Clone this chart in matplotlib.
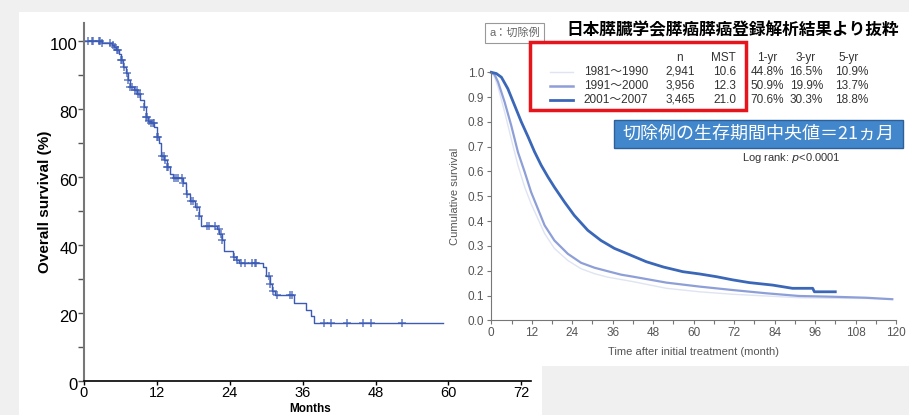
import numpy as np
import matplotlib
matplotlib.use('Agg')
import matplotlib.pyplot as plt
import matplotlib.transforms as mtransforms
from matplotlib.patches import Rectangle

plt.rcParams['font.family'] = ['Liberation Sans', 'Noto Sans CJK JP', 'DejaVu Sans']

# ---- left panel: Kaplan-Meier (own series) ----
km_t = [0, 2.9, 4.6, 4.9, 5.3, 5.7, 6.1, 6.5, 6.9, 7.2, 7.5, 8.3, 8.8, 9.3, 9.8, 10.2,
        10.5, 11.0, 11.6, 12.0, 12.3, 12.6, 13.2, 13.6, 14.1, 14.6, 16.3, 16.8, 17.5,
        18.2, 19.0, 19.3, 21.9, 22.3, 22.7, 23.1, 24.6, 25.0, 25.6, 29.4, 30.0, 30.6,
        31.0, 31.4, 34.5, 36.6, 37.3, 37.9]
km_s = [100, 99.3, 98.9, 98.3, 97.5, 96.2, 94.4, 92.4, 90.7, 88.5, 86.5, 85.6, 84.4,
        82.6, 80.5, 77.7, 76.5, 75.8, 74.6, 71.9, 69.9, 66.2, 65.0, 63.0, 60.9, 59.6,
        58.1, 55.0, 52.9, 51.3, 48.5, 45.7, 44.7, 43.1, 41.6, 38.3, 36.6, 35.6, 34.6,
        33.5, 31.0, 28.5, 26.5, 25.2, 22.8, 21.0, 19.1, 17.0]
km_end = 59.1
km_cens = [0.7, 1.3, 1.5, 2.4, 2.6, 3.0, 4.3, 4.8, 5.1, 5.4, 5.65, 6.1, 6.2, 6.6, 7.0,
           7.3, 7.6, 7.85, 8.4, 8.7, 8.95, 9.2, 9.8, 10.2, 10.4, 10.75, 11.0, 11.3, 11.5,
           12.0, 12.25, 12.8, 13.1, 13.35, 13.6, 13.9, 14.8, 15.15, 15.5, 16.1, 16.35,
           16.9, 17.55, 17.9, 18.55, 19.0, 20.25, 20.5, 21.65, 22.2, 22.5, 22.8, 24.75,
           25.2, 25.8, 26.45, 27.6, 28.1, 28.4, 30.4, 30.7, 31.1, 31.8, 33.9, 34.3,
           39.45, 40.6, 43.3, 45.9, 47.2, 52.4]

# ---- right panel: JPS registry curves ----
dark_t = [0, 1.5, 3, 4.9, 6.9, 8.9, 10.9, 12.8, 14.8, 16.8, 18.7, 21.7, 24.6, 28.6, 32.5,
          36.5, 40.4, 46, 51, 56.8, 61.7, 66.7, 71.6, 76.5, 83.4, 89.3, 95.3, 95.8, 102]
dark_s = [1.0, 0.995, 0.98, 0.934, 0.867, 0.80, 0.74, 0.68, 0.625, 0.578, 0.537, 0.477,
          0.423, 0.363, 0.322, 0.29, 0.268, 0.236, 0.215, 0.196, 0.187, 0.176, 0.163,
          0.152, 0.142, 0.129, 0.129, 0.115, 0.115]
mid_t = [0, 1, 2, 3.95, 5.9, 7.9, 9.9, 11.8, 13.8, 15.8, 18.7, 22.7, 26.6, 30.6, 34.5,
         38.5, 42, 51.9, 61.7, 71.6, 81.5, 91.3, 101.2, 111.1, 118.9]
mid_s = [1, 0.99, 0.961, 0.88, 0.786, 0.678, 0.598, 0.517, 0.45, 0.383, 0.322, 0.268,
         0.232, 0.212, 0.198, 0.184, 0.176, 0.152, 0.136, 0.122, 0.109, 0.098, 0.095,
         0.091, 0.085]
light_t = [0, 1, 2, 3.95, 5.9, 7.9, 9.9, 11.8, 13.8, 15.8, 18.7, 22.7, 26.6, 30.6, 34.5,
           42, 51.9, 61.7, 71.6, 81.5, 91.3, 101.2, 111.1, 118.9]
light_s = [1, 0.98, 0.94, 0.84, 0.732, 0.625, 0.537, 0.47, 0.41, 0.35, 0.29, 0.241,
           0.208, 0.188, 0.174, 0.156, 0.129, 0.115, 0.105, 0.098, 0.091, 0.089, 0.088,
           0.085]

periods = ['1981～1990', '1991～2000', '2001～2007']
n_cases = ['2,941', '3,956', '3,465']
mst = ['10.6', '12.3', '21.0']
yr1 = ['44.8%', '50.9%', '70.6%']
yr3 = ['16.5%', '19.9%', '30.3%']
yr5 = ['10.9%', '13.7%', '18.8%']
curve_colors = ['#dfe4f3', '#8e9fd8', '#3b67b8']

W, H = 909, 415


def fx(x):
    return x / W


def fy(y):
    return 1 - y / H


fig = plt.figure(figsize=(W / 100, H / 100), dpi=100, facecolor='#f0f0f0')
fig.patches.append(Rectangle((fx(19), 0), 1, fy(12), transform=fig.transFigure,
                             facecolor='white', edgecolor='none', zorder=-10))
fig.patches.append(Rectangle((fx(542), 0), 1, fy(366), transform=fig.transFigure,
                             facecolor='#f0f0f0', edgecolor='none', zorder=-9))

# left axes
ax1 = fig.add_axes([fx(84), fy(381), (531 - 84) / W, (381 - 23) / H])
ax1.patch.set_visible(False)
t_all = np.array(km_t + [km_end])
s_all = np.array(km_s + [km_s[-1]])
ax1.step(t_all, s_all, where='post', color='#3b5bb5', lw=1.0)
idx = np.searchsorted(km_t, km_cens, side='right') - 1
ax1.plot(km_cens, np.array(km_s)[idx], '+', ms=6, mew=1.1, color='#3b5bb5', alpha=0.8)
ax1.set_xlim(0, 73.6)
ax1.set_ylim(0, 105.3)
ax1.set_xticks(range(0, 73, 12))
ax1.set_yticks(range(0, 101, 20))
ax1.set_yticks(range(10, 100, 20), minor=True)
for s in ['top', 'right']:
    ax1.spines[s].set_visible(False)
ax1.spines['left'].set_color('#777777')
ax1.spines['left'].set_linewidth(1.5)
ax1.spines['bottom'].set_linewidth(1.2)
ax1.tick_params(axis='y', which='both', direction='out', length=4, width=1, pad=0.5,
                labelsize=12, color='#555555')
ax1.tick_params(axis='x', direction='out', length=3, width=1, pad=0.5, labelsize=10.5)
offset = mtransforms.ScaledTranslation(0, -3 / 100, fig.dpi_scale_trans)
for lab in ax1.get_yticklabels():
    lab.set_transform(lab.get_transform() + offset)
fig.text(fx(45), fy(202), 'Overall survival (%)', rotation=90, ha='center', va='center',
         fontsize=11, fontweight='bold')
fig.text(fx(310), fy(415), 'Months', ha='center', va='bottom', fontsize=8.5,
         fontweight='bold')

# right axes
ax2 = fig.add_axes([fx(491.3), fy(320.3), (896 - 491.3) / W, 248 / H])
ax2.patch.set_visible(False)
ax2.plot(light_t, light_s, color=curve_colors[0], lw=1.0, clip_on=False)
ax2.plot(mid_t, mid_s, color=curve_colors[1], lw=1.6, clip_on=False)
ax2.plot(dark_t, dark_s, color=curve_colors[2], lw=2.0, clip_on=False)
ax2.set_xlim(0, 120)
ax2.set_ylim(0, 1.0)
ax2.set_xticks(range(0, 121, 12))
ax2.set_xticks(range(6, 120, 12), minor=True)
ax2.set_yticks(np.arange(0, 1.01, 0.1))
ax2.set_yticklabels(['%.1f' % v for v in np.arange(0, 1.01, 0.1)])
for s in ['top', 'right']:
    ax2.spines[s].set_visible(False)
for s in ['left', 'bottom']:
    ax2.spines[s].set_color('#777777')
    ax2.spines[s].set_linewidth(0.8)
ax2.tick_params(which='both', direction='out', length=3, width=0.8, color='#777777',
                labelsize=8.5, labelcolor='#555555', pad=2)
fig.text(fx(455), fy(196), 'Cumulative survival', rotation=90, ha='center', va='center',
         fontsize=8, color='#555555')
fig.text(fx(694), fy(352), 'Time after initial treatment (month)', ha='center', va='center',
         fontsize=8, color='#555555')

# headings and table
fig.text(fx(514.5), fy(33), 'a：切除例', ha='center', va='center', fontsize=8, color='#666666',
         bbox=dict(boxstyle='square,pad=0.4', fc='white', ec='#999999', lw=0.8))
fig.text(fx(733), fy(30), '日本膵臓学会膵癌膵癌登録解析結果より抜粋', ha='center', va='center',
         fontsize=12, fontweight='bold', family=['Noto Sans CJK JP'])
fig.patches.append(Rectangle((fx(530), fy(110)), (746 - 530) / W, (110 - 42) / H,
                             transform=fig.transFigure, fill=False, edgecolor='#e8141c',
                             lw=2.5, zorder=5))
tcol = '#333333'
fs = 8.5
for x, h in zip([679, 723, 767, 806, 849], ['n', 'MST', '1-yr', '3-yr', '5-yr']):
    fig.text(fx(x), fy(58), h, ha='center', va='center', fontsize=fs, color=tcol)
for i in range(3):
    y = 72 + 14 * i
    fig.text(fx(648), fy(y), periods[i], ha='right', va='center', fontsize=fs, color=tcol)
    fig.text(fx(695), fy(y), n_cases[i], ha='right', va='center', fontsize=fs, color=tcol)
    fig.text(fx(736), fy(y), mst[i], ha='right', va='center', fontsize=fs, color=tcol)
    fig.text(fx(784), fy(y), yr1[i], ha='right', va='center', fontsize=fs, color=tcol)
    fig.text(fx(823), fy(y), yr3[i], ha='right', va='center', fontsize=fs, color=tcol)
    fig.text(fx(868), fy(y), yr5[i], ha='right', va='center', fontsize=fs, color=tcol)
    fig.add_artist(plt.Line2D([fx(550), fx(573)], [fy(y), fy(y)], transform=fig.transFigure,
                              color=curve_colors[i], lw=[1.0, 1.8, 2.0][i]))

fig.patches.append(Rectangle((fx(614), fy(148)), (903 - 614) / W, 28 / H,
                             transform=fig.transFigure, facecolor='#4287cb',
                             edgecolor='#2d5f98', lw=1, zorder=5))
fig.text(fx(758), fy(134), '切除例の生存期間中央値＝21ヵ月', ha='center', va='center',
         fontsize=13, color='white', family=['Noto Sans CJK JP'], zorder=6)
fig.text(fx(791), fy(158), 'Log rank: $\\it{p}$<0.0001', ha='center', va='center',
         fontsize=8, color='#333333')

fig.savefig('out.png', dpi=100, facecolor=fig.get_facecolor())
